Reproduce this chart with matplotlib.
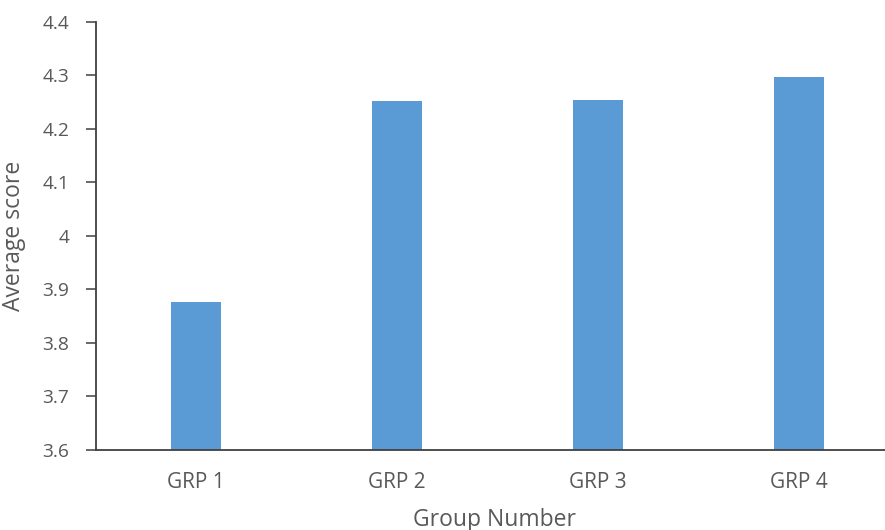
import matplotlib.pyplot as plt

groups = ['GRP 1', 'GRP 2', 'GRP 3', 'GRP 4']
scores = [3.876, 4.251, 4.253, 4.296]
yticks = [3.6, 3.7, 3.8, 3.9, 4.0, 4.1, 4.2, 4.3, 4.4]
ytick_labels = ['3.6', '3.7', '3.8', '3.9', '4', '4.1', '4.2', '4.3', '4.4']

plt.rcParams['font.family'] = ['Open Sans', 'DejaVu Sans']

fig = plt.figure(figsize=(8.85, 5.3), dpi=100)
# axis runs a bit past the right edge, like the cropped original
ax = fig.add_axes([0.108, 0.1517, 0.908, 0.8075])

x = range(len(groups))
ax.bar(x, scores, width=0.25, color='#5B9BD5', zorder=2)

ax.set_xlim(-0.5, 3.5)
ax.set_ylim(3.6, 4.4)
ax.set_yticks(yticks)
ax.set_yticklabels(ytick_labels)
ax.set_xticks(list(x))
ax.set_xticklabels(groups)

for s in ['top', 'right']:
    ax.spines[s].set_visible(False)
for s in ['left', 'bottom']:
    ax.spines[s].set_color('#404040')
    ax.spines[s].set_linewidth(1.3)

ax.tick_params(axis='y', length=7, width=1.1, color='#404040', labelsize=13.8,
               labelcolor='#595959', pad=12)
ax.tick_params(axis='x', length=0, labelsize=15, labelcolor='#595959', pad=16)

ax.set_ylabel('Average score', fontsize=16.5, color='#595959')
ax.set_xlabel('Group Number', fontsize=16.5, color='#595959', va='top')
ax.yaxis.set_label_coords(-0.086, 0.5)
ax.xaxis.set_label_coords(0.497, -0.136)

plt.savefig('out.png', dpi=100)
